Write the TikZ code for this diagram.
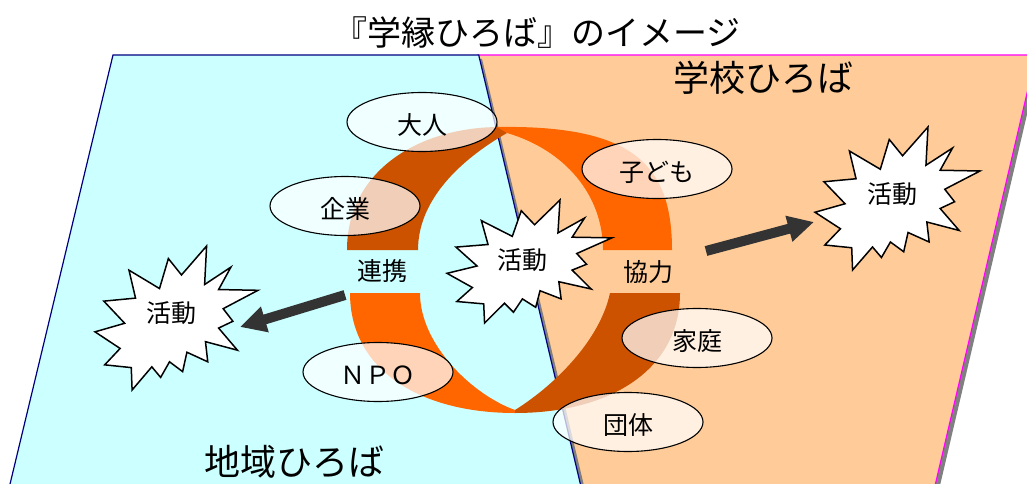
\documentclass[tikz,border=0pt]{standalone}
\usepackage{fontspec}
\setmainfont{Noto Sans CJK JP}
\usetikzlibrary{arrows.meta,shapes.geometric}
\definecolor{cyanbg}{HTML}{CCFFFF}
\definecolor{peach}{HTML}{FFCC99}
\definecolor{ringbright}{HTML}{FF6600}
\definecolor{ringdark}{HTML}{CC5200}
\definecolor{navyline}{HTML}{000080}
\definecolor{magline}{HTML}{FF00FF}
\definecolor{shadowgray}{HTML}{808080}
\definecolor{arrowgray}{HTML}{333333}
\newcommand{\explosion}[4]{%
  \draw[starshape, shift={(#1,#2)}, xscale=#3/216, yscale=#4/216]
   (114.62,43.42) -- (147.90,0) -- (145.25,57.77) -- (180.07,31.72) -- (163.80,65.32)
   -- (216.00,66.45) -- (169.85,94.02) -- (182.70,112.90) -- (163.80,123.10)
   -- (188.77,156.32) -- (146.40,143.50) -- (149.42,173.70) -- (121.80,159.35)
   -- (116.12,188.42) -- (98.72,173.70) -- (87.00,197.12) -- (75.27,181.25)
   -- (49.17,216.00) -- (48.05,182.40) -- (12.85,178.25) -- (33.30,153.70)
   -- (0,128.77) -- (39.35,115.92) -- (11.72,82.70) -- (53.72,78.17)
   -- (45.02,36.25) -- (85.50,63.82) -- (97.22,18.87) -- cycle;}
\begin{document}
\begin{tikzpicture}[x=1pt,y=-1pt,
  ell/.style={ellipse, draw=black, line width=1.1pt, fill=white, fill opacity=0.72,
    text opacity=1, minimum width=150pt, minimum height=59pt, inner sep=0pt,
    text height=25pt, text depth=0pt,
    font=\fontsize{25}{30}\selectfont},
  starshape/.style={fill=white, draw=black, line width=1.5pt, line join=miter},
  startext/.style={inner sep=0pt, font=\fontsize{25}{30}\selectfont},
  bandtext/.style={inner sep=0pt, font=\fontsize{25}{30}\selectfont},
  bigtext/.style={inner sep=0pt, font=\fontsize{36}{40}\selectfont},
  bigarrow/.style={draw=arrowgray, line width=10pt, -{Triangle[length=26pt,width=25pt]}},
  areashadow/.style={fill=shadowgray, draw=none}]
\useasboundingbox (0,0) rectangle (1027,484);
\clip (0,0) rectangle (1027,484);
\fill[white] (0,0) rectangle (1027,484);
% school area (orange)
\fill[areashadow] (482,59) -- (1040,59) -- (938,494) -- (564,494) -- cycle;
\filldraw[fill=peach, draw=magline, line width=1.2pt] (478,55) -- (1036,55) -- (934,490) -- (560,490) -- cycle;
% community area (cyan)
\fill[areashadow] (117,59) -- (482,59) -- (586,494) -- (13,494) -- cycle;
\filldraw[fill=cyanbg, draw=navyline, line width=1.2pt] (113,55) -- (478.7,55) -- (581.8,490) -- (8.6,490) -- cycle;
% ring, top half
\fill[ringdark] (347,250) .. controls (347,170) and (420,127) .. (500,127)
  -- (507,133) .. controls (460,160) and (418,200) .. (418,250) -- cycle;
\fill[ringbright] (497,127) .. controls (630,125) and (672,162) .. (672,250)
  -- (603,250) .. controls (603,195) and (565,150) .. (507,133) -- cycle;
% ring, bottom half
\fill[ringbright] (350,293) .. controls (350,370) and (420,413) .. (515,413)
  -- (515,410) .. controls (473,395) and (420,345) .. (420,293) -- cycle;
\fill[ringdark] (515,413) .. controls (610,413) and (680,370) .. (680,293)
  -- (610,293) .. controls (600,340) and (555,385) .. (515,410) -- cycle;
% titles
\node[inner sep=0pt, font=\fontsize{34}{38}\selectfont] (title) at (537,33) {『学縁ひろば』のイメージ};
\node[bigtext] (school) at (763,78) {学校ひろば};
\node[bigtext] (community) at (294,462) {地域ひろば};
% band labels
\node[bandtext] (renkei) at (382,271) {連携};
\node[bandtext] (kyoryoku) at (648,272) {協力};
% ellipses
\node[ell] (otona) at (422,122) {大人};
\node[ell] (kigyo) at (345,206) {企業};
\node[ell] (kodomo) at (657,169) {子ども};
\node[ell] (katei) at (697,338) {家庭};
\node[ell] (npo) at (378,372) {ＮＰＯ};
\node[ell] (dantai) at (628,422) {団体};
% explosions
\explosion{447}{200}{165}{123}
\node[startext] (katsudoC) at (522,260) {活動};
\explosion{95}{246}{163}{144}
\node[startext] (katsudoL) at (171,313) {活動};
\explosion{815}{127}{165}{143}
\node[startext] (katsudoR) at (892,194) {活動};
% arrows
\coordinate (la) at (345,295);
\coordinate (lb) at (240,327);
\coordinate (ra) at (706,251);
\coordinate (rb) at (814,222);
\draw[bigarrow] (la) -- (lb);
\draw[bigarrow] (ra) -- (rb);
\end{tikzpicture}
\end{document}
